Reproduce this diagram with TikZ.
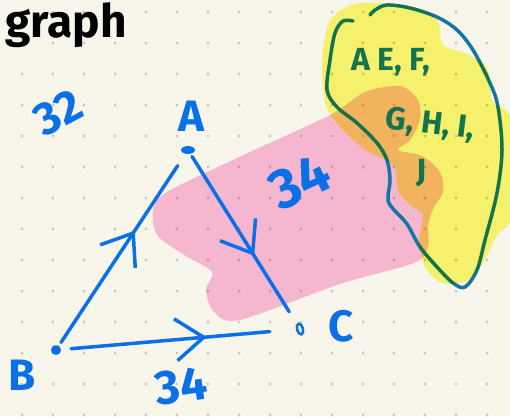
\documentclass[tikz,border=0pt]{standalone}
\usepackage{fontspec}
\setmainfont{Fira Sans}
\usetikzlibrary{arrows.meta,decorations.markings,shapes.geometric}
\definecolor{bg}{RGB}{248,246,235}
\definecolor{gridc}{RGB}{200,200,196}
\definecolor{ablue}{RGB}{10,112,232}
\definecolor{inkteal}{RGB}{20,118,165}
\definecolor{pinkhl}{RGB}{252,190,225}
\definecolor{yellowhl}{RGB}{252,250,118}
\tikzset{
  edge/.style={color=ablue,line width=3.5pt,line cap=round,line join=round},
  midarrow/.style={postaction={decorate},decoration={markings,mark=at position #1 with {\arrow{Straight Barb[length=28pt,width=42pt]}}}},
  lab/.style={text=ablue,font=\bfseries\fontsize{44}{44}\selectfont,inner sep=0pt},
  gtxt/.style={text=inkteal,font=\bfseries\fontsize{32}{32}\selectfont,inner sep=0pt},
  vdot/.style={fill=ablue,inner sep=0pt},
}
\begin{document}
\begin{tikzpicture}[x=1pt,y=-1pt]
\fill[bg] (0,0) rectangle (510,416);
\useasboundingbox (0,0) rectangle (510,416);
% dot grid
\foreach \i in {0,...,15}{
  \foreach \j in {0,...,13}{
    \fill[gridc] ({22+31*\i},{12+31*\j}) circle (1.6pt);
  }
}
% pink highlight
\begin{scope}[blend mode=multiply]
\fill[pinkhl] plot[smooth cycle,tension=0.5] coordinates {(153,212) (167,192) (250,152) (330,115) (365,92) (400,86) (418,100) (420,120) (410,140) (398,150) (422,156) (440,172) (443,192) (434,207) (428,225) (428,247) (414,263) (340,284) (240,320) (214,312) (206,290) (212,272) (186,256) (158,236)};
\end{scope}
% teal outline
\draw[inkteal,line width=3.5pt,line cap=round,line join=round] plot[smooth,tension=0.55] coordinates {(353,21) (343,21) (335,33) (330,60) (327,90) (337,107) (357,123) (377,143) (387,160) (390,180) (388,200) (395,211) (407,224) (420,247) (437,267) (453,283) (465,287) (477,270) (485,240) (497,193) (502,150) (498,107) (490,83) (473,50) (457,30) (437,17) (410,8) (387,5) (375,10) (370,15)};
% green text (teal ink under yellow)
\node[gtxt] (t1) at (391,62) {A E, F,};
\node[gtxt,rotate=-7] (t2) at (430,125) {G, H, I,};
\node[gtxt] (t3) at (422,173) {J};
% yellow highlight
\begin{scope}[blend mode=multiply]
\fill[yellowhl] plot[smooth cycle,tension=0.5] coordinates {(337,13) (360,3) (410,6) (437,20) (443,45) (465,53) (487,68) (492,100) (508,112) (512,130) (512,215) (497,235) (483,263) (465,282) (440,282) (424,265) (419,240) (423,215) (410,205) (398,190) (393,165) (365,150) (340,127) (325,103) (322,60) (327,28)};
\end{scope}
% title
\node[anchor=base west,inner sep=0pt,font=\bfseries\fontsize{46}{46}\selectfont] (title) at (5,37) {graph};
% graph
\node[vdot,ellipse,minimum width=14pt,minimum height=8pt] (a) at (188,150) {};
\node[vdot,circle,minimum size=10pt] (b) at (56,350) {};
\node[draw=ablue,ellipse,line width=2.5pt,inner sep=0pt,minimum width=6pt,minimum height=11pt,rotate=15] (c) at (300,329) {};
\draw[edge,midarrow=0.6,shorten <=4pt,shorten >=14pt] (b) -- (a);
\draw[edge,midarrow=0.6,shorten <=3pt,shorten >=14pt] (a) -- (c);
\draw[edge,midarrow=0.62,shorten <=10pt,shorten >=26pt] (b) -- (c);
\node[lab] (la) at (191,116) {A};
\node[lab] (lb) at (22,375) {B};
\node[lab] (lc) at (341,326) {C};
\node[lab,rotate=28,font=\bfseries\fontsize{46}{46}\selectfont] (l32) at (58,113) {32};
\node[lab,rotate=25,font=\bfseries\fontsize{56}{56}\selectfont] (l34r) at (300,182) {34};
\node[lab,rotate=8,font=\bfseries\fontsize{48}{48}\selectfont] (l34b) at (181,386) {34};
\end{tikzpicture}
\end{document}
